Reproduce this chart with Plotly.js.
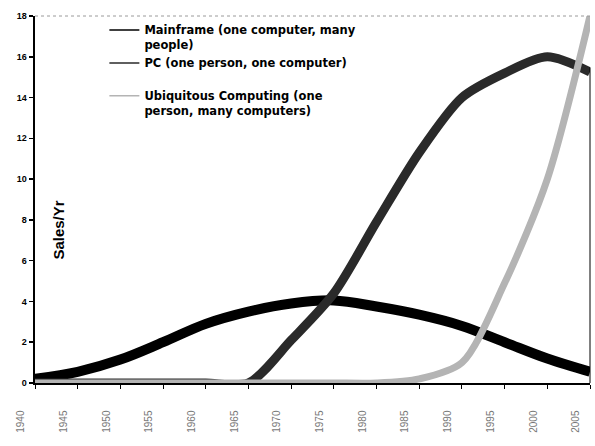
<!DOCTYPE html>
<html>
<head>
<meta charset="utf-8">
<script src="https://cdn.plot.ly/plotly-3.0.1.min.js"></script>
<style>html,body{margin:0;padding:0;background:#fff;}#chart{width:595px;height:446px;}</style>
</head>
<body>
<div id="chart"></div>
<script>
var years = ["1940","1945","1950","1955","1960","1965","1970","1975","1980","1985","1990","1995","2000","2005"];
var mainframe = [0.2, 0.55, 1.15, 2.0, 2.9, 3.5, 3.9, 4.05, 3.75, 3.35, 2.8, 2.0, 1.2, 0.55];
var pc = [0, 0, 0, 0, 0, 0, 2.1, 4.4, 7.9, 11.3, 14.0, 15.2, 16.0, 15.25];
var ubiquitous = [0, 0, 0, 0, 0, 0, 0, 0, 0, 0.2, 1.0, 4.9, 10.0, 18.0];
var names = ["Mainframe (one computer, many<br>people)", "PC (one person, one computer)<br> ", "Ubiquitous Computing (one<br>person, many computers)"];
var colors = ["#000000", "#2a2a2a", "#b4b4b4"];
var widths = [10, 9, 7];
var series = [mainframe, pc, ubiquitous];

var traces = [];
// plotted curves
for (var i = 0; i < series.length; i++) {
  traces.push({x: years, y: series[i], name: names[i], legendgroup: "g" + i, showlegend: false,
    type: "scatter", mode: "lines",
    line: {color: colors[i], width: widths[i], shape: "spline", smoothing: (i === 0 ? 1 : 0.8)}});
}
// thin legend keys (same series, legend only)
for (var j = 0; j < series.length; j++) {
  traces.push({x: [null], y: [null], name: names[j], legendgroup: "g" + j, showlegend: true,
    type: "scatter", mode: "lines", line: {color: colors[j], width: 1.5}});
}

var layout = {
  width: 595, height: 446,
  margin: {l: 35, r: 5, t: 16, b: 63},
  paper_bgcolor: "#fff", plot_bgcolor: "#fff",
  font: {family: "Liberation Sans, Arial, sans-serif", color: "#000"},
  showlegend: true,
  legend: {x: 0.125, y: 1.0, xanchor: "left", yanchor: "top", valign: "top",
           bgcolor: "rgba(0,0,0,0)",
           font: {family: "DejaVu Sans, sans-serif", size: 11.5, weight: "bold", color: "#000"},
           tracegroupgap: 0},
  xaxis: {type: "category", range: [0, 13], showgrid: false, zeroline: false,
          showline: true, linecolor: "#000", linewidth: 1.5,
          ticks: "outside", ticklen: 4, tickcolor: "#000",
          tickangle: -90, tickfont: {size: 10, color: "#777"},
          ticklabelstandoff: 18, ticklabelshift: -14},
  yaxis: {range: [0, 18], dtick: 2, showgrid: false, zeroline: false,
          showline: true, linecolor: "#000", linewidth: 2.5, mirror: false,
          ticks: "outside", ticklen: 4, tickcolor: "#000", tickwidth: 1.5,
          tickfont: {size: 9, weight: "bold", color: "#000"}},
  shapes: [
    {type: "line", xref: "paper", yref: "paper", x0: 0, x1: 1, y0: 1, y1: 1,
     line: {color: "#9a9a9a", width: 1, dash: "dot"}},
    {type: "line", xref: "paper", yref: "paper", x0: 1, x1: 1, y0: 0, y1: 0.86,
     line: {color: "#000", width: 1}}
  ],
  annotations: [
    {text: "Sales/Yr", xref: "paper", yref: "y", x: 0, y: 7.5, xshift: 13,
     textangle: -90, showarrow: false, font: {size: 15, weight: "bold", color: "#000"}}
  ]
};

Plotly.newPlot("chart", traces, layout, {displayModeBar: false, staticPlot: true});
</script>
</body>
</html>
